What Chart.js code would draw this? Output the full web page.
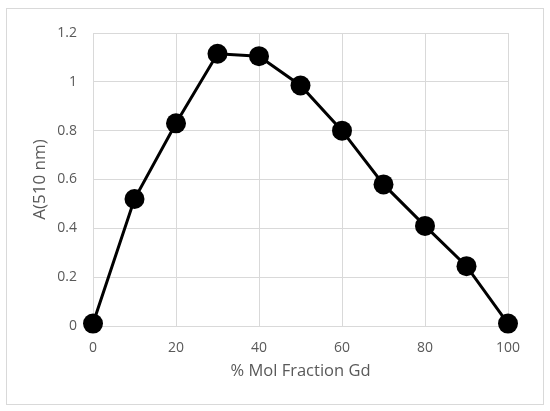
<!DOCTYPE html>
<html>
<head>
<meta charset="utf-8">
<script src="https://cdn.jsdelivr.net/npm/chart.js@4/dist/chart.umd.min.js"></script>
<style>
  html, body { margin: 0; padding: 0; background: #fff; }
  #wrap { width: 550px; height: 411px; position: relative; }
</style>
</head>
<body>
<div id="wrap"><canvas id="jobChart"></canvas></div>
<script>
const molFraction = [0, 10, 20, 30, 40, 50, 60, 70, 80, 90, 100];
const absorbance = [0.01, 0.52, 0.83, 1.115, 1.105, 0.985, 0.80, 0.58, 0.41, 0.245, 0.01];
const xTicks = [0, 20, 40, 60, 80, 100];
const yTicks = [0, 0.2, 0.4, 0.6, 0.8, 1, 1.2];

const gridColor = '#d9d9d9';
const textColor = '#595959';
const fontFamily = "'Open Sans', 'Liberation Sans', sans-serif";

// light grey frame around the whole chart, like the Excel chart area
const frame = {
    id: 'frame',
    beforeDraw(chart) {
        const ctx = chart.ctx;
        ctx.save();
        ctx.fillStyle = '#fff';
        ctx.fillRect(0, 0, chart.width, chart.height);
        ctx.strokeStyle = gridColor;
        ctx.lineWidth = 1;
        ctx.strokeRect(6.5, 8.5, 537, 396);
        ctx.restore();
    }
};

const points = molFraction.map((x, i) => ({ x: x, y: absorbance[i] }));

new Chart(document.getElementById('jobChart'), {
    type: 'line',
    data: {
        datasets: [{
            data: points,
            clip: false,
            borderColor: '#000',
            borderWidth: 3,
            pointBackgroundColor: '#000',
            pointBorderColor: '#000',
            pointBorderWidth: 0,
            pointRadius: 10,
            pointHoverRadius: 10,
            tension: 0
        }]
    },
    options: {
        responsive: true,
        maintainAspectRatio: false,
        animation: false,
        events: [],
        layout: { padding: { left: 0, right: 42, top: 33, bottom: 30 } },
        plugins: { legend: { display: false }, tooltip: { enabled: false } },
        scales: {
            x: {
                type: 'linear',
                min: 0,
                max: 100,
                afterBuildTicks: s => { s.ticks = xTicks.map(v => ({ value: v })); },
                afterFit: s => { s.height = 55; },
                grid: { color: gridColor, drawTicks: false },
                border: { color: gridColor },
                ticks: { color: textColor, padding: 14, font: { family: fontFamily, size: 14 } },
                title: {
                    display: true,
                    text: '% Mol Fraction Gd',
                    color: textColor,
                    padding: { top: 0, bottom: 0 },
                    font: { family: fontFamily, size: 16.5 }
                }
            },
            y: {
                min: 0,
                max: 1.2,
                afterBuildTicks: s => { s.ticks = yTicks.map(v => ({ value: v })); },
                afterFit: s => { s.width = 93; },
                grid: { color: gridColor, drawTicks: false },
                border: { color: gridColor },
                ticks: {
                    color: textColor,
                    padding: 16,
                    font: { family: fontFamily, size: 14 },
                    callback: v => String(+v.toFixed(1))
                },
                title: {
                    display: true,
                    text: 'A(510 nm)',
                    color: textColor,
                    padding: { top: 30, bottom: 0 },
                    font: { family: fontFamily, size: 17 }
                }
            }
        }
    },
    plugins: [frame]
});
</script>
</body>
</html>
